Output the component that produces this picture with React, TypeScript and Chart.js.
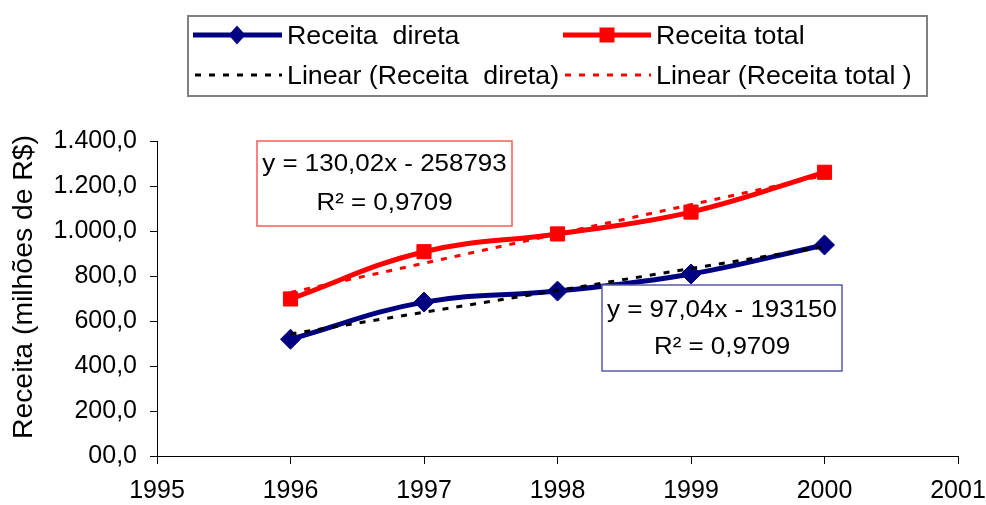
import React, { useEffect, useRef } from "react";
import { Chart, registerables } from "chart.js";

Chart.register(...registerables);

// ---- data ----
const years = [1996, 1997, 1998, 1999, 2000];
const receitaDireta = [519, 684, 733, 809, 938];
const receitaTotal = [698, 908, 987, 1084, 1261];
const trendYears = [1996, 2000];
const trendDireta = [542, 930];
const trendTotal = [727, 1247];
const yTickLabels = ["00,0", "200,0", "400,0", "600,0", "800,0", "1.000,0", "1.200,0", "1.400,0"];
const legendLabels = [
  "Receita  direta",
  "Receita total",
  "Linear (Receita  direta)",
  "Linear (Receita total )",
];
const eqTotal = ["y = 130,02x - 258793", "R² = 0,9709"];
const eqDireta = ["y = 97,04x - 193150", "R² = 0,9709"];
const yTitle = "Receita (milhões de R$)";

const FONT = "'Liberation Sans', Arial, Helvetica, sans-serif";
const NAVY = "#000080";
const RED = "#FF0000";

function drawText(
  ctx: CanvasRenderingContext2D,
  s: string,
  x: number,
  y: number,
  align: CanvasTextAlign,
  size: number,
  sx = 1.07
) {
  ctx.save();
  ctx.font = `${size}px ${FONT}`;
  ctx.textBaseline = "alphabetic";
  ctx.textAlign = align;
  ctx.fillStyle = "#000";
  ctx.translate(x, y);
  ctx.scale(sx, 1);
  ctx.fillText(s, 0, 0);
  ctx.restore();
}

const decor = {
  id: "decor",
  afterDraw(chart: any) {
    const ctx: CanvasRenderingContext2D = chart.ctx;
    ctx.save();

    // y title
    ctx.save();
    ctx.translate(32, 287);
    ctx.rotate(-Math.PI / 2);
    ctx.scale(1.05, 1);
    ctx.font = `27px ${FONT}`;
    ctx.textAlign = "center";
    ctx.textBaseline = "alphabetic";
    ctx.fillStyle = "#000";
    ctx.fillText(yTitle, 0, 0);
    ctx.restore();

    // legend box
    ctx.fillStyle = "#fff";
    ctx.fillRect(188, 16, 739, 80);
    ctx.strokeStyle = "#808080";
    ctx.lineWidth = 2;
    ctx.strokeRect(188, 16, 739, 80);

    const r1 = 35;
    const r2 = 75;
    // row 1 col 1
    ctx.strokeStyle = NAVY;
    ctx.lineWidth = 5;
    ctx.setLineDash([]);
    ctx.beginPath();
    ctx.moveTo(193, r1);
    ctx.lineTo(282, r1);
    ctx.stroke();
    ctx.fillStyle = NAVY;
    ctx.beginPath();
    ctx.moveTo(237 - 8.5, r1);
    ctx.lineTo(237, r1 - 9.5);
    ctx.lineTo(237 + 8.5, r1);
    ctx.lineTo(237, r1 + 9.5);
    ctx.closePath();
    ctx.fill();
    drawText(ctx, legendLabels[0], 287, r1 + 9, "left", 25);

    // row 1 col 2
    ctx.strokeStyle = RED;
    ctx.beginPath();
    ctx.moveTo(563, r1);
    ctx.lineTo(651, r1);
    ctx.stroke();
    ctx.fillStyle = RED;
    ctx.fillRect(607 - 7.5, r1 - 7.5, 15, 15);
    drawText(ctx, legendLabels[1], 656, r1 + 9, "left", 25);

    // row 2
    ctx.lineWidth = 3;
    ctx.setLineDash([6, 8]);
    ctx.strokeStyle = "#000";
    ctx.beginPath();
    ctx.moveTo(195, r2);
    ctx.lineTo(282, r2);
    ctx.stroke();
    ctx.strokeStyle = RED;
    ctx.beginPath();
    ctx.moveTo(565, r2);
    ctx.lineTo(651, r2);
    ctx.stroke();
    ctx.setLineDash([]);
    drawText(ctx, legendLabels[2], 287, r2 + 9, "left", 25);
    drawText(ctx, legendLabels[3], 656, r2 + 9, "left", 25);

    // equation boxes
    ctx.fillStyle = "#fff";
    ctx.fillRect(257, 141, 255, 85);
    ctx.strokeStyle = "#FF5A5A";
    ctx.lineWidth = 1.5;
    ctx.strokeRect(257, 141, 255, 85);
    drawText(ctx, eqTotal[0], 384.5, 171, "center", 24, 1.08);
    drawText(ctx, eqTotal[1], 384.5, 210, "center", 24, 1.08);

    ctx.fillStyle = "#fff";
    ctx.fillRect(602, 285, 240, 86);
    ctx.strokeStyle = "#5A5AA8";
    ctx.strokeRect(602, 285, 240, 86);
    drawText(ctx, eqDireta[0], 722, 317, "center", 24, 1.08);
    drawText(ctx, eqDireta[1], 722, 354, "center", 24, 1.08);

    ctx.restore();
  },
};

export default function App() {
  const ref = useRef<HTMLCanvasElement>(null);

  useEffect(() => {
    document.body.style.margin = "0";
    const canvas = ref.current!;
    const chart = new Chart(canvas, {
      type: "line",
      data: {
        datasets: [
          {
            label: legendLabels[2],
            data: trendYears.map((x, i) => ({ x, y: trendDireta[i] })),
            borderColor: "#000",
            borderWidth: 3,
            borderDash: [6, 8],
            pointRadius: 0,
            tension: 0,
            fill: false,
          },
          {
            label: legendLabels[3],
            data: trendYears.map((x, i) => ({ x, y: trendTotal[i] })),
            borderColor: RED,
            borderWidth: 3,
            borderDash: [6, 8],
            pointRadius: 0,
            tension: 0,
            fill: false,
          },
          {
            label: legendLabels[0],
            data: years.map((x, i) => ({ x, y: receitaDireta[i] })),
            borderColor: NAVY,
            backgroundColor: NAVY,
            borderWidth: 5,
            pointStyle: "rectRot",
            pointRadius: 10,
            pointBorderWidth: 1,
            pointBackgroundColor: NAVY,
            pointBorderColor: NAVY,
            tension: 0.4,
            fill: false,
          },
          {
            label: legendLabels[1],
            data: years.map((x, i) => ({ x, y: receitaTotal[i] })),
            borderColor: RED,
            backgroundColor: RED,
            borderWidth: 5,
            pointStyle: "rect",
            pointRadius: 10,
            pointBorderWidth: 1,
            pointBackgroundColor: RED,
            pointBorderColor: RED,
            tension: 0.4,
            fill: false,
          },
        ],
      },
      options: {
        responsive: false,
        animation: false,
        layout: { padding: { top: 141, right: 28, left: 0, bottom: 0 } },
        plugins: {
          legend: { display: false },
          tooltip: { enabled: false },
        },
        scales: {
          x: {
            type: "linear",
            min: 1995,
            max: 2001,
            ticks: {
              stepSize: 1,
              autoSkip: false,
              maxRotation: 0,
              padding: 12,
              color: "#000",
              font: { family: FONT, size: 25 },
              callback: (v: any) => String(v),
            },
            grid: {
              display: true,
              drawOnChartArea: false,
              drawTicks: true,
              tickLength: 8,
              color: "#000",
              lineWidth: 1,
            },
            border: { display: true, color: "#000", width: 1 },
            afterFit: (s: any) => {
              s.height = 49;
              s.paddingLeft = 0;
              s.paddingRight = 0;
            },
          },
          y: {
            type: "linear",
            min: 0,
            max: 1400,
            ticks: {
              stepSize: 200,
              padding: 13,
              color: "#000",
              font: { family: FONT, size: 25 },
              callback: (v: any) => yTickLabels[Math.round(Number(v) / 200)],
            },
            grid: {
              display: true,
              drawOnChartArea: false,
              drawTicks: true,
              tickLength: 7,
              color: "#000",
              lineWidth: 1,
            },
            border: { display: true, color: "#000", width: 1 },
            afterFit: (s: any) => {
              s.width = 157;
              s.paddingTop = 0;
              s.paddingBottom = 0;
            },
          },
        },
      },
      plugins: [decor],
    });
    return () => chart.destroy();
  }, []);

  return (
    <div style={{ width: 986, height: 505, background: "#fff", position: "relative" }}>
      <canvas ref={ref} width={986} height={505} style={{ display: "block" }} />
    </div>
  );
}
